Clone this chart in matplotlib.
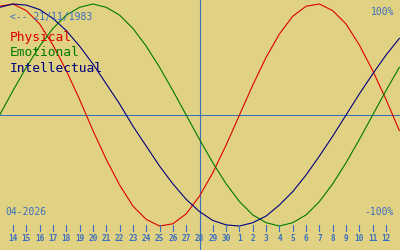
import matplotlib
matplotlib.use('Agg')
from matplotlib import pyplot as plt

# Days shown (13 Apr .. 13 May 2026), one value per day
day_labels = [13, 14, 15, 16, 17, 18, 19, 20, 21, 22, 23, 24, 25, 26, 27, 28, 29, 30,
              1, 2, 3, 4, 5, 6, 7, 8, 9, 10, 11, 12, 13]
physical = [0.98, 1.00, 0.94, 0.82, 0.63, 0.40, 0.14, -0.14, -0.40, -0.63, -0.82, -0.94,
            -1.00, -0.98, -0.89, -0.73, -0.52, -0.27, 0.00, 0.27, 0.52, 0.73, 0.89, 0.98,
            1.00, 0.94, 0.82, 0.63, 0.40, 0.14, -0.14]
emotional = [0.00, 0.22, 0.43, 0.62, 0.78, 0.90, 0.97, 1.00, 0.97, 0.90, 0.78, 0.62,
             0.43, 0.22, 0.00, -0.22, -0.43, -0.62, -0.78, -0.90, -0.97, -1.00, -0.97,
             -0.90, -0.78, -0.62, -0.43, -0.22, 0.00, 0.22, 0.43]
intellectual = [0.97, 1.00, 0.99, 0.95, 0.87, 0.76, 0.62, 0.46, 0.28, 0.10, -0.10, -0.28,
                -0.46, -0.62, -0.76, -0.87, -0.95, -0.99, -1.00, -0.97, -0.91, -0.81,
                -0.69, -0.54, -0.37, -0.19, 0.00, 0.19, 0.37, 0.54, 0.69]
today_label = 28
birth = '21/11/1983'
month = '04-2026'

bg = '#E0D282'
ui = '#3A6EC0'
x = list(range(-1, len(day_labels) - 1))

fig = plt.figure(figsize=(4, 2.5), dpi=100, facecolor=bg)
ax = fig.add_axes([0, 0, 1, 1])
ax.set_facecolor(bg)
ax.set_xlim(-0.976, 29.05)
ax.set_ylim(-1.216, 1.036)
ax.axis('off')

ax.axhline(0, color=ui, lw=0.75)
ax.axvline(x[day_labels.index(today_label)], color=ui, lw=0.8)

ax.plot(x, physical, color='#DD0000', lw=0.8)
ax.plot(x, emotional, color='#007A00', lw=0.8)
ax.plot(x, intellectual, color='#000080', lw=0.8)

# day ticks along the bottom
for xi, d in zip(x[1:-1], day_labels[1:-1]):
    ax.plot([xi, xi], [-0.99, -1.045], color=ui, lw=0.8)
    ax.text(xi, -1.108, str(d), color=ui, fontsize=5.6, family='DejaVu Sans Mono',
            fontweight='bold', ha='center', va='center')

mono = 'DejaVu Sans Mono'
fig.text(10 / 400, 1 - 17 / 250, '<-- ' + birth, color=ui, fontsize=7, family=mono, va='center')
fig.text(394 / 400, 1 - 12 / 250, '100%', color=ui, fontsize=7, family=mono, va='center', ha='right')
fig.text(394 / 400, 1 - 212 / 250, '-100%', color=ui, fontsize=7, family=mono, va='center', ha='right')
fig.text(5 / 400, 1 - 212 / 250, month, color=ui, fontsize=7, family=mono, va='center')
fig.text(10 / 400, 1 - 38 / 250, 'Physical', color='#DD0000', fontsize=9.3, family=mono, va='center')
fig.text(10 / 400, 1 - 53 / 250, 'Emotional', color='#007A00', fontsize=9.3, family=mono, va='center')
fig.text(10 / 400, 1 - 68 / 250, 'Intellectual', color='#000080', fontsize=9.3, family=mono, va='center')

fig.savefig('out.png', dpi=100, facecolor=bg)
